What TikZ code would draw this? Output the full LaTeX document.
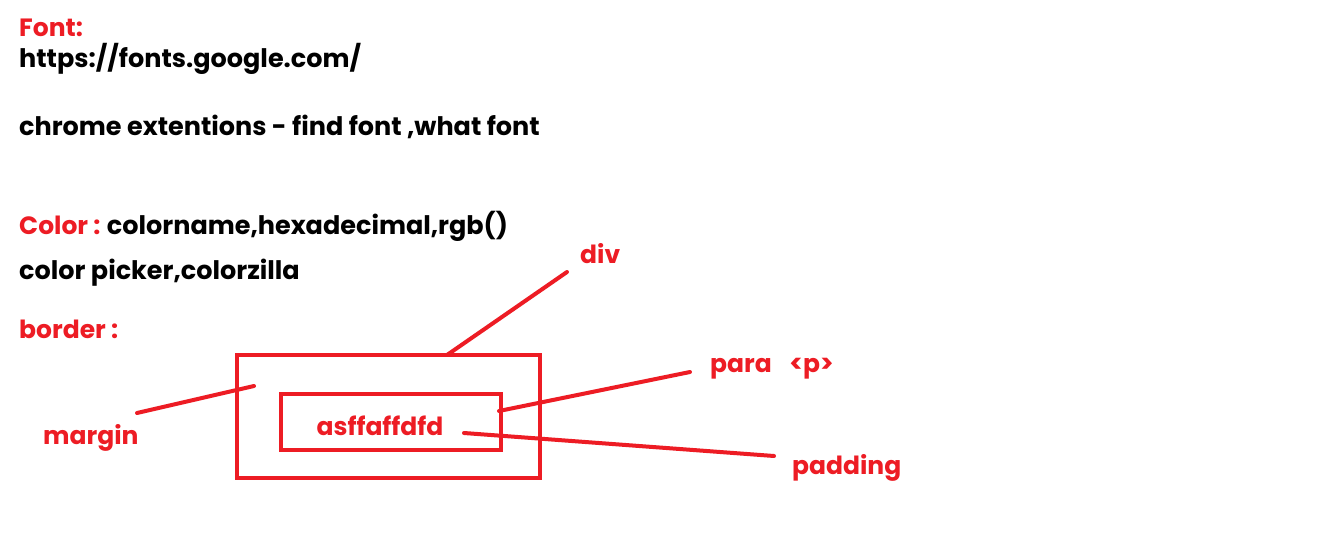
\documentclass[tikz,border=0pt]{standalone}
\usepackage{fontspec}
\setmainfont{Poppins}
\definecolor{pred}{HTML}{ED1C24}
\begin{document}
\begin{tikzpicture}[x=1pt,y=-1pt,
  txt/.style={anchor=base west,inner sep=0pt,font=\fontsize{25.5}{30}\selectfont\bfseries},
  rtxt/.style={txt,text=pred,font=\fontsize{25}{30}\selectfont\bfseries},
  box/.style={draw=pred,line width=4pt},
  lead/.style={draw=pred,line width=4pt,line cap=round}]
\useasboundingbox[fill=white] (0,0) rectangle (1336,543);
\node[rtxt] (font) at (19,37) {Font:};
\node[txt] (url) at (19,68) {https://fonts.google.com/};
\node[txt] (ext) at (19,135) {chrome extentions - find font ,what font};
\node[rtxt] (color) at (19,234) {Color :};
\node[txt] (cvals) at (color.base east) [xshift=6pt] {colorname,hexadecimal,rgb()};
\node[txt] (picker) at (19,279) {color picker,colorzilla};
\node[rtxt] (border) at (19,338) {border :};
\draw[box] (237,355) rectangle (540,478);
\draw[box] (281,394) rectangle (501,450);
\node[rtxt,anchor=base] (content) at (380,435) {asffaffdfd};
\node[rtxt] (div) at (580,263) {div};
\node[rtxt] (para) at (710,372) {para\hspace{0.7em}<p>};
\node[rtxt] (margin) at (43,444) {margin};
\node[rtxt] (padding) at (792,474) {padding};
\coordinate (divA) at (567,272);
\coordinate (divB) at (447,355);
\coordinate (marA) at (137,413);
\coordinate (marB) at (254,386);
\coordinate (parA) at (690,372);
\coordinate (parB) at (499,411);
\coordinate (padA) at (774,456);
\coordinate (padB) at (464,433);
\draw[lead] (divA) -- (divB);
\draw[lead] (marA) -- (marB);
\draw[lead] (parA) -- (parB);
\draw[lead] (padA) -- (padB);
\end{tikzpicture}
\end{document}
